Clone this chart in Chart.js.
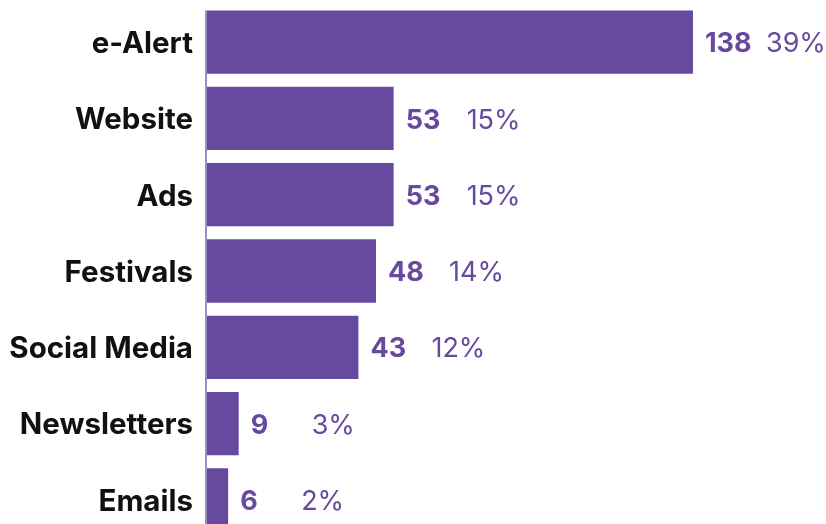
<!DOCTYPE html>
<html>
<head>
<meta charset="utf-8">
<script src="https://cdn.jsdelivr.net/npm/chart.js@4"></script>
<style>
html,body{margin:0;padding:0;background:#fff;overflow:hidden;}
#wrap{width:826px;height:540px;}
</style>
</head>
<body>
<div id="wrap"><canvas id="c" width="826" height="540"></canvas></div>
<script>
const categories = ["e-Alert", "Website", "Ads", "Festivals", "Social Media", "Newsletters", "Emails"];
const counts = [138, 53, 53, 48, 43, 9, 6];
const percents = ["39%", "15%", "15%", "14%", "12%", "3%", "2%"];

const PURPLE = "#674a9e";
const FONT = "Inter, 'Open Sans', sans-serif";

const valueLabels = {
  id: "valueLabels",
  afterDatasetsDraw(chart) {
    const ctx = chart.ctx;
    const meta = chart.getDatasetMeta(0);
    ctx.save();
    const first = meta.data[0];
    const x0 = chart.scales.x.getPixelForValue(0);
    ctx.strokeStyle = "#9d8cc8";
    ctx.lineWidth = 2;
    ctx.beginPath();
    ctx.moveTo(x0 - 1, first.y - first.height / 2);
    ctx.lineTo(x0 - 1, chart.height);
    ctx.stroke();

    ctx.fillStyle = PURPLE;
    ctx.textBaseline = "middle";
    ctx.textAlign = "left";
    meta.data.forEach((bar, i) => {
      const x = bar.x + 12;
      ctx.font = "bold 27px " + FONT;
      ctx.fillText(String(counts[i]), x, bar.y + 2);
      ctx.font = "27px " + FONT;
      ctx.fillText(percents[i], x + 61, bar.y + 2);
    });
    ctx.restore();
  }
};

new Chart(document.getElementById("c"), {
  type: "bar",
  data: {
    labels: categories,
    datasets: [{
      data: counts,
      backgroundColor: PURPLE,
      borderWidth: 0,
      categoryPercentage: 1,
      barPercentage: 0.83
    }]
  },
  options: {
    indexAxis: "y",
    responsive: false,
    animation: false,
    devicePixelRatio: 1,
    layout: { padding: { top: 4, bottom: 2, left: 0, right: 1 } },
    plugins: { legend: { display: false }, tooltip: { enabled: false } },
    scales: {
      x: { display: false, min: 0, max: 175.5 },
      y: {
        afterFit(scale) { scale.width = 207; scale.paddingTop = 0; scale.paddingBottom = 0; },
        grid: { display: false, drawTicks: false },
        border: { display: false },
        ticks: {
          color: "#111",
          padding: 14,
          labelOffset: 2,
          font: { family: FONT, size: 29.5, weight: "bold" }
        }
      }
    }
  },
  plugins: [valueLabels]
});
</script>
</body>
</html>
